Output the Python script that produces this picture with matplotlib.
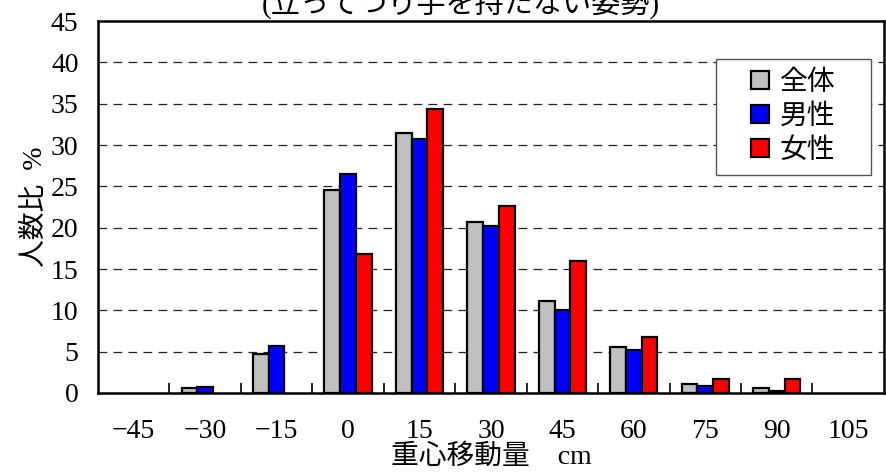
import numpy as np
import matplotlib.pyplot as plt
from matplotlib.patches import Rectangle

plt.rcParams['font.family'] = ['Liberation Serif', 'Noto Sans CJK JP']

# 重心移動量 (cm) categories
categories = [-45, -30, -15, 0, 15, 30, 45, 60, 75, 90, 105]
# 人数比 %
zentai = [0, 0.6, 4.7, 24.6, 31.4, 20.7, 11.1, 5.6, 1.05, 0.55, 0]
dansei = [0, 0.75, 5.7, 26.5, 30.7, 20.2, 10.0, 5.2, 0.8, 0.25, 0]
josei = [0, 0, 0, 16.8, 34.4, 22.6, 16.0, 6.8, 1.7, 1.7, 0]
labels = ['全体', '男性', '女性']
colors = ['#c0c0c0', '#0000ff', '#ff0000']

fig = plt.figure(figsize=(8.86, 4.72), dpi=100)
ax = fig.add_axes([0.1106, 0.1674, 0.887, 0.788])

x = np.arange(len(categories))
w = 0.22
for i, (vals, lab, col) in enumerate(zip([zentai, dansei, josei], labels, colors)):
    vals = np.array(vals, dtype=float)
    nz = vals > 0  # zero-height bars are not drawn in the original
    ax.bar(x[nz] + (i - 1) * w, vals[nz], width=w, color=col, edgecolor='black',
           linewidth=1.6, label=lab, zorder=3)

ax.set_xlim(-0.5, len(categories) - 0.5)
ax.set_ylim(0, 45)
ax.set_yticks(np.arange(0, 46, 5))
ax.set_xticks(x)
ax.set_xticklabels([str(c).replace('-', '\u2212') for c in categories])
ax.set_xticks(np.arange(0.5, len(categories) - 1, 1), minor=True)
ax.tick_params(axis='x', which='major', length=0, pad=19, labelsize=20)
ax.tick_params(axis='x', which='minor', direction='in', length=7, width=1.2)
ax.tick_params(axis='y', direction='in', length=0, pad=14, labelsize=20)

for yv in range(5, 45, 5):
    ax.axhline(yv, color='#222222', linestyle=(0, (7, 5)), linewidth=0.9, zorder=1)

for sp in ax.spines.values():
    sp.set_linewidth(1.8)
    sp.set_color('black')

ax.set_xlabel('重心移動量    cm', fontsize=20, labelpad=0)
ax.set_ylabel('人数比  %', fontsize=20, labelpad=2)

# legend box drawn separately (wide side padding as in the original)
bx, by, bw, bh = 0.786, 0.586, 0.197, 0.312
ax.add_patch(Rectangle((bx, by), bw, bh, transform=ax.transAxes, facecolor='white',
                       edgecolor='#555555', linewidth=1.0, zorder=5))
leg = ax.legend(loc='center', bbox_to_anchor=(bx + bw / 2, by + bh / 2), fontsize=20,
                frameon=False, handlelength=0.65, handleheight=0.65,
                handletextpad=0.4, labelspacing=0.3, borderpad=0)
leg.set_zorder(6)

fig.text(0.52, 0.99, '(立ってつり手を持たない姿勢)', fontsize=21,
         ha='center', va='center')

fig.savefig('out.png', dpi=100)
